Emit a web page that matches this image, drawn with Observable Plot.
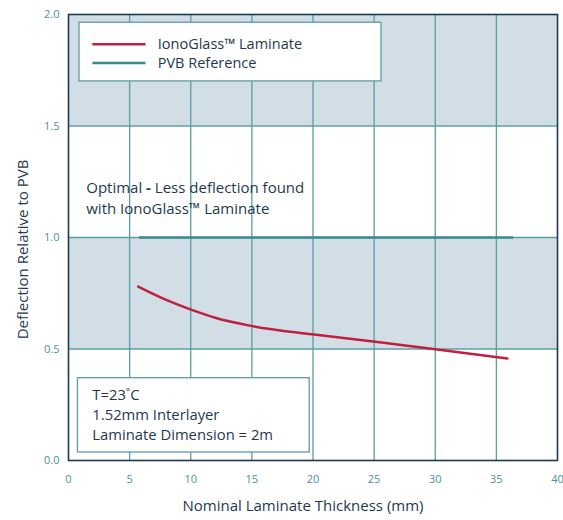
<!DOCTYPE html>
<html>
<head>
<meta charset="utf-8">
<script src="https://cdn.jsdelivr.net/npm/d3@7"></script>
<script src="https://cdn.jsdelivr.net/npm/@observablehq/plot@0.6"></script>
<style>
  html, body { margin: 0; padding: 0; background: #fff; }
  #chart { width: 563px; height: 520px; }
  svg { font-family: "Open Sans", sans-serif; }
</style>
</head>
<body>
<div id="chart"></div>
<script>
// Data
const thickness = [5.7, 8, 10.2, 12, 15.1, 20.1, 25.1, 30.0, 35.9];
const ionoGlass = [0.78, 0.72, 0.673, 0.64, 0.602, 0.565, 0.532, 0.499, 0.457];
const pvbX = [5.85, 36.3];
const pvbY = [1.0, 1.0];
const xTicks = [0, 5, 10, 15, 20, 25, 30, 35, 40];
const yTicks = [0, 0.5, 1.0, 1.5, 2.0];
const bandsY1 = [0.5, 1.5];
const bandsY2 = [1.0, 2.0];
const seriesNames = ["IonoGlass™ Laminate", "PVB Reference"];
const seriesColors = ["#c0203e", "#3d8a8d"];
const noteLines = ["T=23˚C", "1.52mm Interlayer", "Laminate Dimension = 2m"];
const optimalLines = ["Optimal - Less deflection found", "with IonoGlass™ Laminate"];
const xLabel = "Nominal Laminate Thickness (mm)";
const yLabel = "Deflection Relative to PVB";

const iono = thickness.map((x, i) => ({x, y: ionoGlass[i]}));
const pvb = pvbX.map((x, i) => ({x, y: pvbY[i]}));
const bands = bandsY1.map((y1, i) => ({y1, y2: bandsY2[i]}));

const navy = "#1d3a4e";
const teal = "#5a9da3";
const tickColor = "#4e9198";

// annotation layout in data units
const legendBox = [{x1: 0.9, x2: 25.6, y1: 1.70, y2: 1.963}];
const legendRows = seriesNames.map((name, i) => ({name, color: seriesColors[i], y: 1.867 - i * 0.085}));
const noteBox = [{x1: 0.77, x2: 19.73, y1: 0.036, y2: 0.369}];
const noteRows = noteLines.map((t, i) => ({t, y: 0.2915 - i * 0.0897}));
const optRows = optimalLines.map((t, i) => ({t, y: 1.22 - i * 0.095}));

const chart = Plot.plot({
  width: 563,
  height: 520,
  marginLeft: 68,
  marginRight: 6,
  marginTop: 14,
  marginBottom: 60,
  style: {fontFamily: "'Open Sans', sans-serif", background: "#fff"},
  x: {domain: [0, 40]},
  y: {domain: [0, 2]},
  marks: [
    Plot.rect(bands, {x1: 0, x2: 40, y1: "y1", y2: "y2", fill: "#d1dee5"}),
    Plot.ruleX(xTicks.slice(1, -1), {stroke: teal, strokeWidth: 1.3}),
    Plot.ruleY(yTicks.slice(1, -1), {stroke: teal, strokeWidth: 1.3}),
    Plot.axisX({ticks: xTicks, tickSize: 0, tickPadding: 15, tickFormat: d => d, fill: tickColor, fontSize: 11, label: null}),
    Plot.axisY({ticks: yTicks, tickSize: 0, tickPadding: 9, tickFormat: d3.format(".1f"), fill: tickColor, fontSize: 11, label: null}),
    Plot.text([xLabel], {frameAnchor: "bottom", dy: 50, dx: -10, text: d => d, fill: navy, fontSize: 15}),
    Plot.text([yLabel], {frameAnchor: "left", textAnchor: "middle", dx: -45, dy: 12, rotate: -90, text: d => d, fill: navy, fontSize: 15}),
    Plot.line(pvb, {x: "x", y: "y", stroke: seriesColors[1], strokeWidth: 2.5}),
    Plot.line(iono, {x: "x", y: "y", stroke: seriesColors[0], strokeWidth: 2.5, curve: "monotone-x"}),
    // legend
    Plot.rect(legendBox, {x1: "x1", x2: "x2", y1: "y1", y2: "y2", fill: "#fff", stroke: teal, strokeWidth: 1.3}),
    Plot.link(legendRows, {x1: 1.95, x2: 6.3, y1: "y", y2: "y", stroke: "color", strokeWidth: 2.5}),
    Plot.text(legendRows, {x: 7.3, y: "y", text: "name", textAnchor: "start", fill: navy, fontSize: 14.5}),
    // optimal note
    Plot.text(optRows, {x: 1.45, y: "y", text: "t", textAnchor: "start", fill: navy, fontSize: 15}),
    // conditions box
    Plot.rect(noteBox, {x1: "x1", x2: "x2", y1: "y1", y2: "y2", fill: "#fff", stroke: teal, strokeWidth: 1.3}),
    Plot.text(noteRows, {x: 1.95, y: "y", text: "t", textAnchor: "start", fill: navy, fontSize: 14.8}),
    Plot.frame({stroke: navy, strokeWidth: 1.6})
  ]
});
// bold dash in "Optimal - Less ..."
chart.querySelectorAll("text").forEach(t => {
  if (t.textContent === optimalLines[0]) {
    const parts = optimalLines[0].split(" - ");
    t.textContent = "";
    const ns = "http://www.w3.org/2000/svg";
    const a = document.createElementNS(ns, "tspan"); a.textContent = parts[0] + " ";
    const b = document.createElementNS(ns, "tspan"); b.textContent = "-"; b.setAttribute("font-weight", "bold");
    const c = document.createElementNS(ns, "tspan"); c.textContent = " " + parts[1];
    t.append(a, b, c);
  }
});
document.getElementById("chart").appendChild(chart);
</script>
</body>
</html>
